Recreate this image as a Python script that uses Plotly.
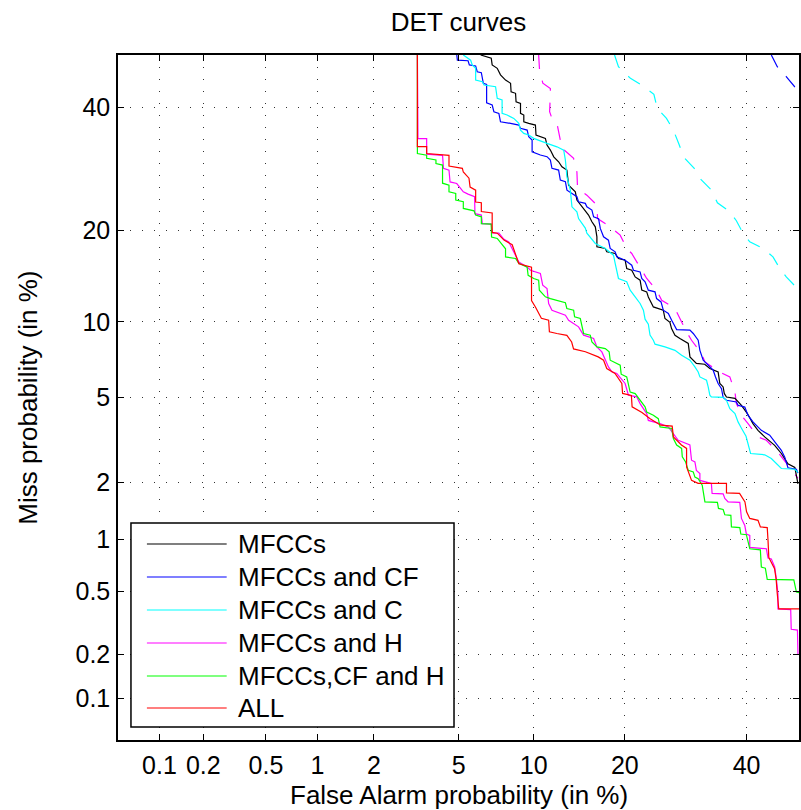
import plotly.graph_objects as go
from statistics import NormalDist

# ---------------- data (percent) ----------------
TICK_VALUES = [0.1, 0.2, 0.5, 1, 2, 5, 10, 20, 40]
TICK_LABELS = ["0.1", "0.2", "0.5", "1", "2", "5", "10", "20", "40"]
AXIS_LIMITS = [0.05, 50]

NAMES = ["MFCCs", "MFCCs and CF", "MFCCs and C", "MFCCs and H", "MFCCs,CF and H", "ALL"]

MFCC_FA = [6.2, 6.85, 6.91, 7.24, 7.46, 7.81, 8.17, 8.21, 8.54, 8.58,
           8.92, 8.92, 9.18, 9.18, 9.58, 10.14, 10.19, 11.02, 11.17, 11.48,
           11.8, 12.27, 12.6, 13.1, 13.28, 13.99, 14.16, 14.71, 15.46, 15.85,
           16.25, 16.44, 16.44, 17.46, 17.65, 18.72, 19.15, 20.04, 20.26, 20.95,
           21.43, 22.13, 22.37, 23.09, 23.33, 24.08, 25.6, 25.86, 26.64, 26.9,
           27.45, 28.25, 29.63, 29.91, 31.0, 32.43, 33.33, 34.8, 35.1, 35.7,
           35.9, 36.3, 37.85, 39.05, 40.15, 41.2, 42.15, 43.42, 45.32, 46.6,
           47.55, 47.87, 49.2, 49.5, 49.8]
MFCC_MISS = [50, 49.4, 48.1, 47.45, 46.2, 45.2, 44.6, 43.0, 42.7, 41.1,
             40.8, 38.96, 38.65, 37.42, 37.13, 36.82, 35.03, 34.44, 33.26, 32.39,
             31.24, 30.4, 29.56, 29.02, 26.6, 25.55, 24.29, 23.29, 22.1, 21.15,
             20.46, 19.12, 17.84, 17.64, 17.22, 17.02, 16.42, 16.22, 15.26, 15.06,
             14.32, 13.97, 12.93, 12.76, 12.26, 11.31, 11.01, 10.28, 9.96, 9.44,
             8.91, 8.66, 8.29, 7.35, 6.92, 6.87, 6.6, 6.39, 5.73, 5.54,
             5.2, 5.02, 4.95, 4.62, 4.25, 3.83, 3.57, 3.33, 3.04, 2.78,
             2.58, 2.48, 2.38, 2.13, 1.97]

CF_FA = [4.91, 4.94, 5.49, 5.56, 5.91, 6.0, 6.24, 6.36, 6.56, 6.56,
         6.91, 7.02, 7.35, 7.46, 8.17, 8.79, 8.92, 9.45, 9.58, 9.86,
         9.86, 10.57, 11.17, 11.48, 11.63, 12.27, 12.44, 12.95, 13.11, 13.63,
         14.16, 14.34, 15.09, 15.27, 15.85, 16.05, 16.64, 16.85, 17.25, 17.86,
         18.08, 18.72, 18.93, 20.04, 20.95, 21.19, 22.13, 22.37, 22.85, 23.33,
         24.33, 24.57, 25.25, 25.6, 26.39, 26.92, 27.45, 27.72, 29.91, 30.47,
         31.31, 31.6, 32.17, 33.04, 33.92, 34.33, 34.8, 35.4, 35.7, 36.3,
         38.11, 38.42, 39.67, 40.28, 41.2, 42.78, 44.37, 45.64, 46.6, 47.26,
         47.87, 49.5, 49.8]
CF_MISS = [50, 49.0, 48.9, 48.1, 47.9, 46.8, 46.6, 44.6, 44.4, 40.9,
           40.5, 39.26, 38.96, 37.42, 37.13, 36.82, 36.23, 35.92, 34.72, 34.14,
           32.1, 31.55, 31.26, 30.68, 29.3, 29.02, 27.39, 27.13, 25.81, 25.3,
           24.8, 24.03, 23.8, 23.3, 22.81, 21.85, 21.6, 20.24, 19.12, 18.69,
           17.64, 17.22, 16.63, 16.22, 15.63, 15.06, 14.87, 14.15, 13.8, 12.93,
           12.76, 12.1, 11.78, 11.01, 10.72, 10.13, 9.58, 9.36, 9.31, 9.05,
           8.53, 7.80, 7.13, 6.81, 6.50, 6.1, 5.73, 5.45, 5.0, 4.86,
           4.78, 4.62, 4.54, 4.17, 3.9, 3.57, 3.39, 3.09, 2.88, 2.67,
           2.37, 2.33, 2.23]

C_FA = [5.24, 5.63, 5.72, 5.91, 5.91, 6.30, 6.40, 7.13, 7.24, 7.57,
        7.57, 7.92, 8.41, 8.79, 8.92, 9.18, 9.58, 9.99, 11.17, 12.11,
        12.78, 12.95, 13.11, 13.46, 13.63, 14.16, 14.34, 15.09, 15.27, 16.25,
        17.46, 18.5, 18.72, 19.15, 20.26, 20.73, 21.43, 22.13, 22.61, 22.85,
        23.33, 23.58, 24.08, 24.33, 25.86, 27.45, 28.53, 29.91, 30.75, 31.31,
        31.6, 32.75, 33.04, 33.33, 33.6, 35.7, 36.3, 36.91, 37.85, 38.42,
        39.05, 39.9, 40.75, 43.42, 44.68, 45.95, 46.6, 49.2, 49.8]
C_MISS = [50, 49.0, 48.1, 47.45, 45.2, 44.9, 44.26, 43.94, 41.75, 41.44,
          38.96, 38.65, 38.04, 37.13, 35.92, 35.33, 35.03, 34.44, 33.56, 32.96,
          32.39, 30.68, 27.92, 25.81, 23.29, 22.56, 21.6, 20.28, 19.6, 18.27,
          17.64, 16.81, 15.84, 14.15, 13.8, 12.93, 12.26, 11.63, 11.01, 10.22,
          9.8, 8.92, 8.53, 8.24, 8.04, 7.80, 7.46, 7.13, 6.70, 6.39,
          6.1, 5.91, 5.54, 5.11, 5.03, 5.0, 4.86, 4.47, 4.25, 3.9,
          3.65, 3.35, 2.78, 2.74, 2.63, 2.44, 2.35, 2.33, 2.25]

H_FA = [3.26, 3.28, 3.60, 3.60, 4.25, 4.29, 4.54, 4.59, 4.91, 5.24,
        5.49, 5.85, 5.87, 6.24, 6.30, 6.85, 6.91, 7.35, 7.70, 8.04,
        8.41, 8.79, 9.45, 9.72, 10.57, 10.78, 11.17, 11.32, 11.63, 12.95,
        13.28, 14.34, 14.9, 16.05, 16.44, 17.04, 17.86, 18.29, 18.93, 20.04,
        20.49, 21.65, 22.13, 23.09, 23.33, 25.1, 26.39, 27.19, 27.98, 29.9,
        30.18, 30.75, 31.0, 31.6, 31.6, 32.75, 33.6, 33.73, 35.7, 36.0,
        36.6, 38.74, 39.05, 39.67, 39.96, 40.6, 40.6, 43.73, 44.05, 44.68,
        45.32, 45.64, 45.95, 45.95, 48.4, 48.5, 49.7, 49.8]
H_MISS = [50, 34.4, 34.4, 31.7, 31.5, 29.3, 29.0, 27.1, 26.85, 25.55,
          25.2, 24.8, 22.3, 22.1, 20.9, 20.83, 19.65, 19.6, 18.8, 18.45,
          17.2, 16.0, 15.44, 15.06, 14.7, 13.45, 13.1, 11.63, 11.0, 10.57,
          10.13, 9.58, 8.92, 8.66, 8.04, 7.69, 6.7, 6.4, 6.3, 5.73,
          5.11, 5.03, 4.7, 4.25, 3.96, 3.83, 3.70, 3.45, 3.21, 3.05,
          2.58, 2.53, 2.30, 2.22, 2.05, 2.01, 1.98, 1.76, 1.75, 1.66,
          1.59, 1.58, 1.30, 1.19, 1.07, 1.05, 0.90, 0.885, 0.784, 0.775,
          0.696, 0.594, 0.48, 0.39, 0.386, 0.29, 0.287, 0.2]

CFH_FA = [3.26, 3.26, 3.60, 3.60, 3.97, 3.97, 4.25, 4.25, 4.54, 4.54,
          4.86, 4.86, 5.24, 5.24, 5.82, 5.91, 6.24, 6.24, 6.85, 6.87,
          7.24, 7.81, 7.81, 8.54, 8.79, 9.45, 9.53, 10.0, 10.42, 10.48,
          11.02, 11.48, 12.95, 13.1, 13.81, 13.91, 14.53, 14.7, 14.9, 15.66,
          15.85, 16.44, 17.46, 17.95, 18.08, 19.38, 19.51, 20.26, 20.49, 20.73,
          21.43, 21.99, 22.85, 23.09, 24.08, 24.83, 25.1, 26.92, 27.19, 27.72,
          28.53, 28.64, 29.19, 29.63, 30.47, 30.75, 31.31, 32.0, 32.17, 32.47,
          34.67, 34.86, 35.7, 36.0, 37.1, 37.2, 38.74, 38.93, 39.96, 40.28,
          40.6, 42.59, 42.78, 43.54, 43.9, 49.0, 49.5, 50]
CFH_MISS = [50, 31.8, 31.5, 31.0, 30.7, 30.1, 29.85, 26.9, 26.6, 25.55,
            25.3, 24.29, 24.04, 23.06, 22.71, 22.09, 21.85, 20.9, 20.83, 19.1,
            18.91, 17.6, 16.6, 16.42, 15.84, 15.4, 14.5, 14.15, 13.97, 12.93,
            12.27, 12.1, 11.7, 11.17, 11.01, 10.42, 10.28, 9.58, 9.05, 8.92,
            8.40, 8.04, 7.92, 7.69, 7.13, 6.81, 6.26, 6.10, 5.73, 5.27,
            5.19, 4.94, 4.55, 4.32, 4.18, 4.03, 3.70, 3.64, 3.27, 3.05,
            2.94, 2.68, 2.53, 2.30, 2.26, 2.13, 2.09, 1.94, 1.79, 1.59,
            1.58, 1.47, 1.45, 1.36, 1.35, 1.17, 1.16, 1.07, 1.06, 0.965,
            0.885, 0.873, 0.695, 0.685, 0.588, 0.585, 0.494, 0.49]

ALL_FA = [3.26, 3.26, 3.60, 3.60, 4.54, 4.54, 5.19, 5.24, 5.54, 5.6,
          5.91, 5.91, 6.24, 6.24, 6.91, 6.91, 7.24, 7.70, 8.29, 8.54,
          8.79, 9.81, 9.81, 10.14, 10.66, 11.32, 11.39, 12.1, 13.1, 13.6,
          13.8, 15.1, 16.6, 17.25, 17.65, 18.7, 19.6, 19.7, 20.9, 21.0,
          22.4, 23.6, 25.2, 27.0, 27.2, 28.5, 29.35, 29.35, 30.18, 31.3,
          36.3, 36.3, 38.7, 39.7, 40.0, 40.6, 42.15, 42.6, 43.9, 44.05,
          44.2, 45.3, 45.6, 45.8, 46.1, 50]
ALL_MISS = [50, 33.0, 33.0, 31.8, 31.5, 29.7, 29.3, 28.7, 27.7, 26.3,
            25.8, 24.0, 23.9, 22.6, 22.4, 19.7, 19.6, 18.7, 18.1, 17.0,
            15.8, 15.4, 11.9, 11.3, 10.3, 10.13, 9.18, 9.05, 8.9, 8.4,
            7.9, 7.7, 7.35, 7.13, 6.6, 6.3, 5.73, 5.2, 5.1, 4.55,
            4.3, 4.03, 3.77, 3.73, 3.33, 3.05, 2.94, 2.39, 2.05, 1.98,
            1.98, 1.77, 1.76, 1.59, 1.41, 1.30, 1.27, 1.17, 1.16, 0.986,
            0.79, 0.68, 0.59, 0.49, 0.39, 0.39]

# dashed (unlabelled) curves
H_DASH_FA = [10.42, 10.5, 10.79, 11.48, 11.48, 11.41, 11.63, 12.11, 12.44, 12.78,
             12.85, 13.81, 13.88, 14.16, 14.23, 15.27, 16.44, 16.52, 18.08, 19.38,
             20.26, 20.95, 22.37, 23.09, 24.57, 25.35, 27.45, 28.25, 29.35, 30.18,
             31.88, 32.47, 35.1, 36.91, 37.85, 38.11, 39.3, 40.28, 42.15, 43.73,
             45.95, 47.87, 49.8]
H_DASH_MISS = [50, 47.1, 44.6, 43.6, 42.4, 39.26, 38.04, 37.13, 34.14, 33.84,
               32.39, 30.97, 29.85, 28.74, 26.08, 25.04, 23.54, 21.6, 20.46, 19.34,
               17.64, 17.02, 15.06, 14.15, 12.93, 11.94, 11.17, 10.28, 9.17, 8.53,
               7.58, 7.02, 6.39, 6.1, 5.27, 4.7, 4.1, 3.83, 3.33, 3.21,
               2.82, 2.44, 2.1]
C_DASH_FA = [18.64, 19.15, 20.77, 22.61, 24.16, 24.67, 26.1, 27.19, 28.1, 28.97,
             30.64, 31.77, 33.62, 34.67, 36.73, 38.11, 39.3, 40.6, 43.1, 45.0,
             46.3, 47.55, 50]
C_DASH_MISS = [50, 47.75, 45.54, 44.08, 42.5, 39.9, 38.04, 35.92, 33.39, 31.07,
               29.3, 27.5, 25.81, 23.88, 22.7, 21.3, 19.65, 18.47, 17.64, 16.61,
               15.26, 14.32, 12.93]
CF_DASH_FA = [44.68, 45.82, 47.5, 49.2, 50]
CF_DASH_MISS = [50, 47.75, 45.9, 43.9, 43.5]

# ---------------- helpers ----------------
ND = NormalDist()


def dev(pcts):
    """Normal deviate (probit) of percentages: the DET-plot scale."""
    return [ND.inv_cdf(p / 100.0) for p in pcts]


FONT = "Liberation Sans, Arial, Helvetica, sans-serif"
FS = 26
W, H = 801, 810
L, R, T, B = 118, 0, 55, 70
PW, PH = W - L - R, H - T - B


def px(xp):
    return (xp - L) / PW


def py(yp):
    return (H - B - yp) / PH


solid = [
    (MFCC_FA, MFCC_MISS, "black"),
    (CF_FA, CF_MISS, "#0000ff"),
    (C_FA, C_MISS, "#00ffff"),
    (H_FA, H_MISS, "#ff00ff"),
    (CFH_FA, CFH_MISS, "#00ff00"),
    (ALL_FA, ALL_MISS, "#ff0000"),
]
dashed = [
    (CF_DASH_FA, CF_DASH_MISS, "#0000ff"),
    (C_DASH_FA, C_DASH_MISS, "#00ffff"),
    (H_DASH_FA, H_DASH_MISS, "#ff00ff"),
]

fig = go.Figure()
for fa, miss, col in dashed:
    assert len(fa) == len(miss)
    fig.add_trace(go.Scatter(x=dev(fa), y=dev(miss), mode="lines",
                             line=dict(color=col, width=1.2, dash="14px,12px"),
                             showlegend=False, hoverinfo="skip"))
for (fa, miss, col), name in zip(solid, NAMES):
    assert len(fa) == len(miss), name
    fig.add_trace(go.Scatter(x=dev(fa), y=dev(miss), mode="lines", name=name,
                             line=dict(color=col, width=1.2), showlegend=False))

lim = dev(AXIS_LIMITS)
axis_common = dict(
    range=lim, tickvals=dev(TICK_VALUES), ticktext=TICK_LABELS,
    ticks="inside", ticklen=6, tickcolor="black", tickwidth=1,
    showline=True, linecolor="black", linewidth=1.5, mirror="ticks",
    showgrid=True, gridcolor="#333333", gridwidth=1, griddash="1px,11px",
    zeroline=False, tickfont=dict(family=FONT, size=25, color="black"),
)
fig.update_xaxes(**axis_common, ticklabelstandoff=2)
fig.update_yaxes(**axis_common, ticklabelstandoff=1)

# ---- legend drawn as a framed box ----
box = dict(x0=131, x1=455, y0=523, y1=727)
rows = [544, 577, 610, 643, 676, 708]
shapes = [dict(type="rect", xref="paper", yref="paper",
               x0=px(box["x0"]), x1=px(box["x1"]), y0=py(box["y1"]), y1=py(box["y0"]),
               line=dict(color="black", width=1.5), fillcolor="white", layer="above")]
annotations = []
for (fa, miss, col), name, yrow in zip(solid, NAMES, rows):
    shapes.append(dict(type="line", xref="paper", yref="paper",
                       x0=px(147), x1=px(227), y0=py(yrow), y1=py(yrow),
                       line=dict(color=col, width=1.2), layer="above"))
    annotations.append(dict(xref="paper", yref="paper", x=px(236), y=py(yrow),
                            text=name, showarrow=False, xanchor="left", yanchor="middle",
                            font=dict(family=FONT, size=FS, color="black")))

annotations.append(dict(xref="paper", yref="paper", x=0.5, y=py(795),
                        text="False Alarm probability (in %)", showarrow=False,
                        xanchor="center", yanchor="middle",
                        font=dict(family=FONT, size=FS, color="black")))
annotations.append(dict(xref="paper", yref="paper", x=px(27), y=0.5,
                        text="Miss probability (in %)", showarrow=False, textangle=-90,
                        xanchor="center", yanchor="middle",
                        font=dict(family=FONT, size=FS, color="black")))

fig.update_layout(
    width=W, height=H,
    margin=dict(l=L, r=R, t=T, b=B),
    paper_bgcolor="white", plot_bgcolor="white",
    title=dict(text="DET curves", x=0.5, xref="paper", xanchor="center",
               y=1 - 22 / H, yanchor="middle",
               font=dict(family=FONT, size=FS, color="black")),
    shapes=shapes, annotations=annotations, showlegend=False,
)

fig.write_html(
    "out.html",
    config={"displayModeBar": False},
    post_script="document.body.style.margin='0';document.body.style.padding='0';"
                "document.body.style.overflow='hidden';"
                "document.documentElement.style.overflow='hidden';",
)
